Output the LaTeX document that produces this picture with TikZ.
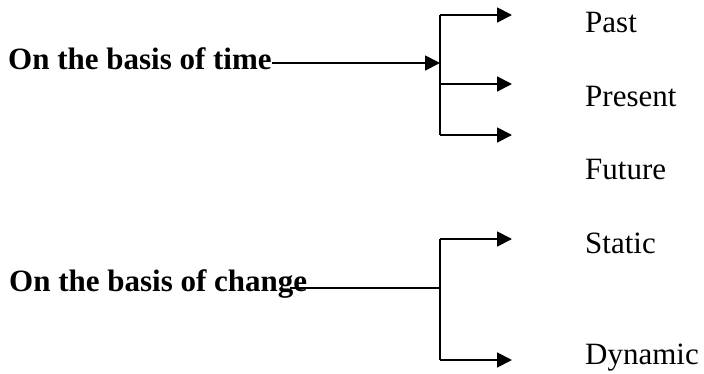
\documentclass[tikz,border=0pt]{standalone}
\usepackage{fontspec}
\setmainfont{Liberation Serif}
\usetikzlibrary{arrows.meta}

\tikzset{
  head/.style={font=\fontsize{31}{37}\selectfont\bfseries, inner sep=0pt, anchor=base west},
  leaf/.style={font=\fontsize{31}{37}\selectfont, inner sep=0pt, anchor=base west},
  link/.style={line width=1.8pt},
  arr/.style={link, -{Triangle[length=15pt,width=15pt]}}
}

\begin{document}
\begin{tikzpicture}[x=1pt, y=-1pt]
                        \useasboundingbox (0,0) rectangle (704,374);

                        % time
                        \node[head] (time) at (8,70) {On the basis of time};
                        \coordinate (tj) at (440,63);
                        \coordinate (t1) at (440,15);
                        \coordinate (t2) at (440,84);
                        \coordinate (t3) at (440,135);
                        \coordinate (t1e) at (512,15);
                        \coordinate (t2e) at (512,84);
                        \coordinate (t3e) at (512,135);
                        \node[leaf] (past) at (585,33) {Past};
                        \node[leaf] (present) at (585,107) {Present};
                        \node[leaf] (future) at (585,180) {Future};

                        \draw[arr] (time.east |- tj) -- (tj);
                        \draw[link] (t1) -- (t3);
                        \draw[arr] (t1) -- (t1e);
                        \draw[arr] (t2) -- (t2e);
                        \draw[arr] (t3) -- (t3e);

                        % change
                        \node[head] (change) at (9,291) {On the basis of change};
                        \coordinate (cj) at (440,288);
                        \coordinate (c1) at (440,239);
                        \coordinate (c2) at (440,360);
                        \coordinate (c1e) at (512,239);
                        \coordinate (c2e) at (512,360);
                        \node[leaf] (static) at (585,254) {Static};
                        \node[leaf] (dynamic) at (585,364) {Dynamic};

                        \draw[link] ([xshift=-17pt]change.east |- cj) -- (cj);
                        \draw[link] (c1) -- (c2);
                        \draw[arr] (c1) -- (c1e);
                        \draw[arr] (c2) -- (c2e);

                    \end{tikzpicture}
\end{document}
